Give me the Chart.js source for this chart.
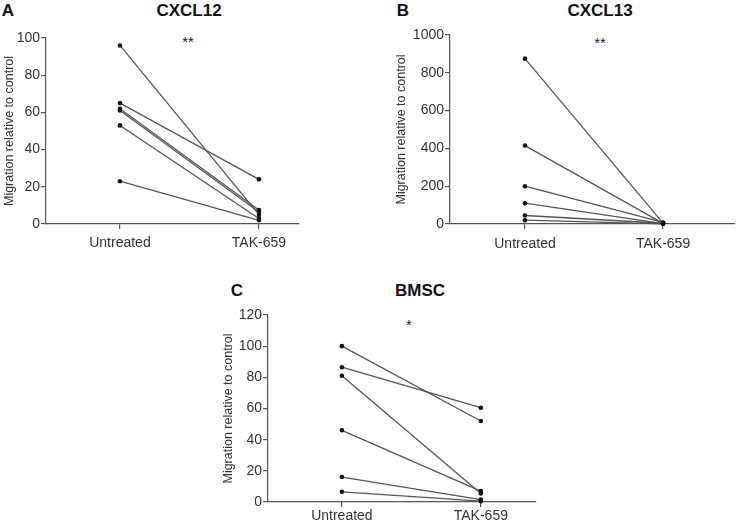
<!DOCTYPE html>
<html>
<head>
<meta charset="utf-8">
<script src="https://cdn.jsdelivr.net/npm/chart.js@4"></script>
<style>
  body { margin: 0; background: #fff; font-family: "Liberation Sans", Arial, sans-serif; }
  #wrap { position: relative; width: 739px; height: 528px; overflow: hidden; }
  canvas { position: absolute; }
  .lbl { position: absolute; font-weight: bold; font-size: 17px; color: #111; line-height: 1; transform: translate(-50%, -50%); white-space: nowrap; }
  .star { position: absolute; font-size: 15px; color: #222; line-height: 1; transform: translate(-50%, -50%); }
</style>
</head>
<body>
<div id="wrap">
  <div class="lbl" style="left:8px; top:10px;">A</div>
  <div class="lbl" style="left:189px; top:10px;">CXCL12</div>
  <div class="star" style="left:188px; top:41px;">**</div>
  <div class="lbl" style="left:403px; top:10px;">B</div>
  <div class="lbl" style="left:600px; top:10px;">CXCL13</div>
  <div class="star" style="left:600px; top:42px;">**</div>
  <div class="lbl" style="left:237px; top:290px;">C</div>
  <div class="lbl" style="left:420px; top:290px;">BMSC</div>
  <div class="star" style="left:409px; top:324px;">*</div>

  <canvas id="chartA" width="310" height="260" style="left:0px; top:0px;"></canvas>
  <canvas id="chartB" width="369" height="260" style="left:370px; top:0px;"></canvas>
  <canvas id="chartC" width="340" height="258" style="left:200px; top:270px;"></canvas>
</div>
<script>
// groups on the x axis
const groups = ['Untreated', 'TAK-659'];
const yTitle = 'Migration relative to control';

// CXCL12 (panel A) - paired values per sample
const untreatedA = [96, 65, 62, 61, 53, 23];
const takA = [5, 24, 7.5, 6.5, 3, 2];

// CXCL13 (panel B)
const untreatedB = [875, 415, 200, 110, 45, 20];
const takB = [5, 3, 8, 2, 4, 1];

// BMSC (panel C)
const untreatedC = [100, 86.5, 81, 46, 16, 6.5];
const takC = [52, 60.5, 5.5, 7, 1.5, 0.5];

const axisColor = '#555';
const textColor = '#333';
const fontFamily = '"Liberation Sans", Arial, sans-serif';

function pairs(before, after) {
    // one dataset per sample, joining the two conditions
    return before.map((v, i) => ({
        data: [{ x: 0, y: v }, { x: 1, y: after[i] }],
        borderColor: '#555',
        borderWidth: 1.3,
        pointRadius: 2.3,
        pointBackgroundColor: '#111',
        pointBorderColor: '#111',
        pointBorderWidth: 0,
        showLine: true,
        clip: false
    }));
}

function makePanel(id, before, after, o) {
    const ctx = document.getElementById(id).getContext('2d');
    return new Chart(ctx, {
        type: 'scatter',
        data: { datasets: pairs(before, after) },
        options: {
            responsive: false,
            animation: false,
            devicePixelRatio: 1,
            layout: { padding: o.pad },
            plugins: { legend: { display: false }, tooltip: { enabled: false } },
            scales: {
                x: {
                    type: 'linear',
                    min: o.xmin,
                    max: o.xmax,
                    afterBuildTicks: s => { s.ticks = [{ value: 0 }, { value: 1 }]; },
                    afterFit: s => { s.height = o.xh; },
                    grid: { drawOnChartArea: false, drawTicks: true, tickLength: 5, color: axisColor, lineWidth: 1.2 },
                    border: { display: true, color: axisColor, width: 1.2 },
                    ticks: {
                        padding: o.xpad,
                        color: textColor,
                        font: { size: 14, family: fontFamily },
                        maxRotation: 0,
                        callback: v => groups[v]
                    }
                },
                y: {
                    min: 0,
                    max: o.ymax,
                    afterFit: s => { s.width = o.yw; },
                    grid: { drawOnChartArea: false, drawTicks: true, tickLength: 5, color: axisColor, lineWidth: 1.2 },
                    border: { display: true, color: axisColor, width: 1.2 },
                    ticks: {
                        stepSize: o.step,
                        padding: 1,
                        color: textColor,
                        font: { size: 14, family: fontFamily },
                        callback: v => String(v)
                    },
                    title: {
                        display: true,
                        text: yTitle,
                        color: textColor,
                        padding: { top: 2, bottom: 2 },
                        font: { size: 12.5, family: fontFamily }
                    }
                }
            }
        }
    });
}

makePanel('chartA', untreatedA, takA, {
    pad: { left: 0, top: 38, right: 11, bottom: 0 },
    yw: 46, xh: 36, xpad: 6, xmin: -0.532, xmax: 1.288, ymax: 100, step: 20
});
makePanel('chartB', untreatedB, takB, {
    pad: { left: 22, top: 35, right: 0, bottom: 0 },
    yw: 58, xh: 36, xpad: 7, xmin: -0.543, xmax: 1.521, ymax: 1000, step: 200
});
makePanel('chartC', untreatedC, takC, {
    pad: { left: 19, top: 45, right: 0, bottom: 0 },
    yw: 49, xh: 26, xpad: 1, xmin: -0.532, xmax: 1.397, ymax: 120, step: 20
});
</script>
</body>
</html>
